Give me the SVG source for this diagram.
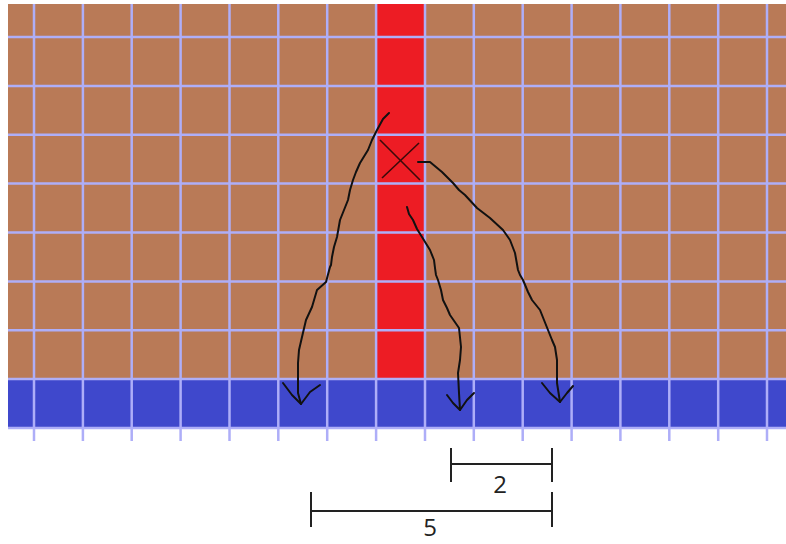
<svg xmlns="http://www.w3.org/2000/svg" width="786" height="544" viewBox="0 0 786 544">
<style>
.grid{stroke:#aeaef8;stroke-width:2.5;fill:none}
.ink{stroke:#111;stroke-width:2;fill:none;stroke-linejoin:round;stroke-linecap:round}
.dim{stroke:#222;stroke-width:2;fill:none}
.lbl{font-family:"Open Sans","Liberation Sans",sans-serif;font-size:24px;fill:#222;text-anchor:middle}
</style>
<rect width="786" height="544" fill="#ffffff"/>
<g id="ground">
<rect x="8" y="4" width="778" height="375" fill="#b97a57"/>
<rect x="377" y="4" width="48" height="375" fill="#ed1c24"/>
<rect x="8" y="379" width="778" height="49" fill="#3f48cc"/>
</g>
<g id="grid" class="grid">
<path d="M8 37H786M8 85.9H786M8 134.7H786M8 183.6H786M8 232.5H786M8 281.4H786M8 330.2H786M8 379.1H786M8 428H786"/>
<path d="M34 4V441M82.9 4V441M131.7 4V441M180.6 4V441M229.5 4V441M278.3 4V441M327.2 4V441M376.1 4V441M425 4V441M473.8 4V441M522.7 4V441M571.6 4V441M620.4 4V441M669.3 4V441M718.2 4V441M767 4V441"/>
</g>
<g id="cross" stroke="#3a0a0a" stroke-width="1.6">
<line x1="380" y1="140" x2="420" y2="180"/>
<line x1="419" y1="143" x2="382" y2="178"/>
</g>
<g id="connectors" class="ink">
<polyline points="389,113 383,119 377,130 372,140 368,150 360,163 356,172 353,180 350,190 348,200 344,210 340,220 337,237 334,247 332,257 331,265 330,267 326,282 317,290 312,307 306,320 302,337 299,350 298,363 298,393 301,404"/>
<polyline points="283,383 292,395 301,404 310,392 320,385"/>
<polyline points="418,162 430,162 442,172 453,183 459,190 465,195 477,208 490,218 503,230 510,240 515,253 518,270 520,275 523,280 528,292 532,300 540,310 544,320 548,330 552,340 555,347 557,360 557,383 560,402"/>
<polyline points="542,383 550,393 560,402 567,393 573,386"/>
<polyline points="407,207 409,214 413,220 417,229 422,237 430,250 434,260 435,268 436,275 438,280 441,290 443,300 447,308 450,315 459,328 461,347 460,360 458,373 459,393 460,410"/>
<polyline points="447,395 453,403 460,410 467,400 474,393"/>
</g>
<g id="dim2">
<line class="dim" x1="451" y1="448" x2="451" y2="482"/>
<line class="dim" x1="552" y1="448" x2="552" y2="482"/>
<line class="dim" x1="451" y1="464" x2="552" y2="464"/>
<text class="lbl" x="500" y="493">2</text>
</g>
<g id="dim5">
<line class="dim" x1="311" y1="492" x2="311" y2="527"/>
<line class="dim" x1="552" y1="492" x2="552" y2="527"/>
<line class="dim" x1="311" y1="511" x2="552" y2="511"/>
<text class="lbl" x="430" y="536">5</text>
</g>
</svg>
